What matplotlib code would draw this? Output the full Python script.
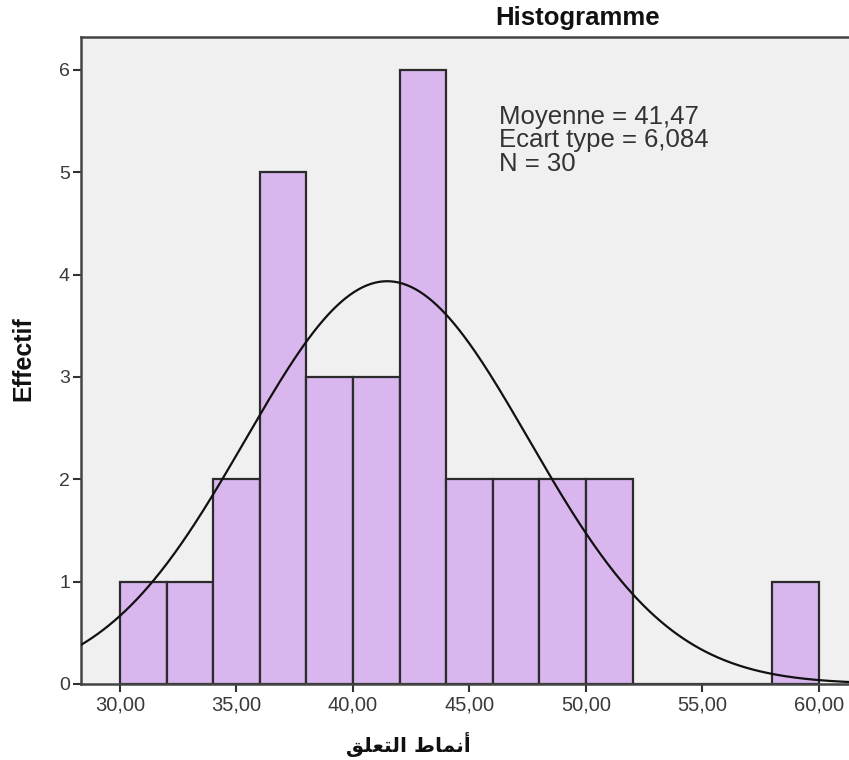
import numpy as np
import matplotlib
matplotlib.use("Agg")
import matplotlib.pyplot as plt

# Data
bin_edges = [30, 32, 34, 36, 38, 40, 42, 44, 46, 48, 50, 52, 54, 56, 58, 60]
counts = [1, 1, 2, 5, 3, 3, 6, 2, 2, 2, 2, 0, 0, 0, 1]
mean_val = 41.47
sd_val = 6.084
n_val = 30
xticks = [30, 35, 40, 45, 50, 55, 60]
xtick_labels = ["30,00", "35,00", "40,00", "45,00", "50,00", "55,00", "60,00"]
yticks = [0, 1, 2, 3, 4, 5, 6]
title = "Histogramme"
ylabel = "Effectif"
# "أنماط التعلق" written in shaped (presentation) forms, visual order
xlabel = "\uFED6\uFEE0\uFECC\uFE98\uFEDF\uFE8D \uFEC1\uFE8E\uFEE4\uFEE7\uFE83"
stats_lines = ["Moyenne = 41,47", "Ecart type = 6,084", "N = 30"]

W, H = 849, 760
fig = plt.figure(figsize=(W / 100, H / 100), dpi=100)
ax = fig.add_axes([81 / W, 1 - 684 / H, 1 - 81 / W, (684 - 37) / H])
ax.set_facecolor("#F0F0F0")

widths = np.diff(bin_edges)
lefts = bin_edges[:-1]
ax.bar(lefts, counts, width=widths, align="edge", color="#DAB6EE",
       edgecolor="#2b2b2b", linewidth=1.6, zorder=2)

xs = np.linspace(27, 63, 600)
binw = 2
ys = n_val * binw / (sd_val * np.sqrt(2 * np.pi)) * np.exp(-0.5 * ((xs - mean_val) / sd_val) ** 2)
ax.plot(xs, ys, color="#111111", linewidth=1.6, zorder=3)

ax.set_xlim(28.33, 61.29)
ax.set_ylim(0, 6.32)
ax.set_xticks(xticks)
ax.set_xticklabels(xtick_labels, fontsize=14.5, color="#3a3a3a", family="Liberation Sans")
ax.set_yticks(yticks)
ax.set_yticklabels([str(v) for v in yticks], fontsize=14, color="#3a3a3a", family="Liberation Sans")
ax.tick_params(axis="both", direction="out", length=6, width=1.5, color="#333333")
ax.tick_params(axis="x", pad=2)
ax.tick_params(axis="y", pad=2)
for s in ["left", "top", "bottom"]:
    ax.spines[s].set_color("#444444")
    ax.spines[s].set_linewidth(1.8)
ax.spines["right"].set_visible(False)

fig.text(578 / W, 1 - 25 / H, title, ha="center", va="baseline", fontsize=18.5,
         fontweight="bold", family="Liberation Sans", color="#111111")
fig.text(23 / W, 1 - 359 / H, ylabel, ha="center", va="center", rotation=90,
         fontsize=18, fontweight="bold", family="Liberation Sans", color="#111111")
fig.text(408 / W, 1 - 744 / H, xlabel, ha="center", va="center", fontsize=14.5,
         fontweight="bold", family=["DejaVu Sans"], color="#111111")
for i, line in enumerate(stats_lines):
    fig.text(499 / W, 1 - (124 + 23.3 * i) / H, line, ha="left", va="baseline",
             fontsize=18.5, family="Liberation Sans", color="#333333")

fig.savefig("out.png", dpi=100)
